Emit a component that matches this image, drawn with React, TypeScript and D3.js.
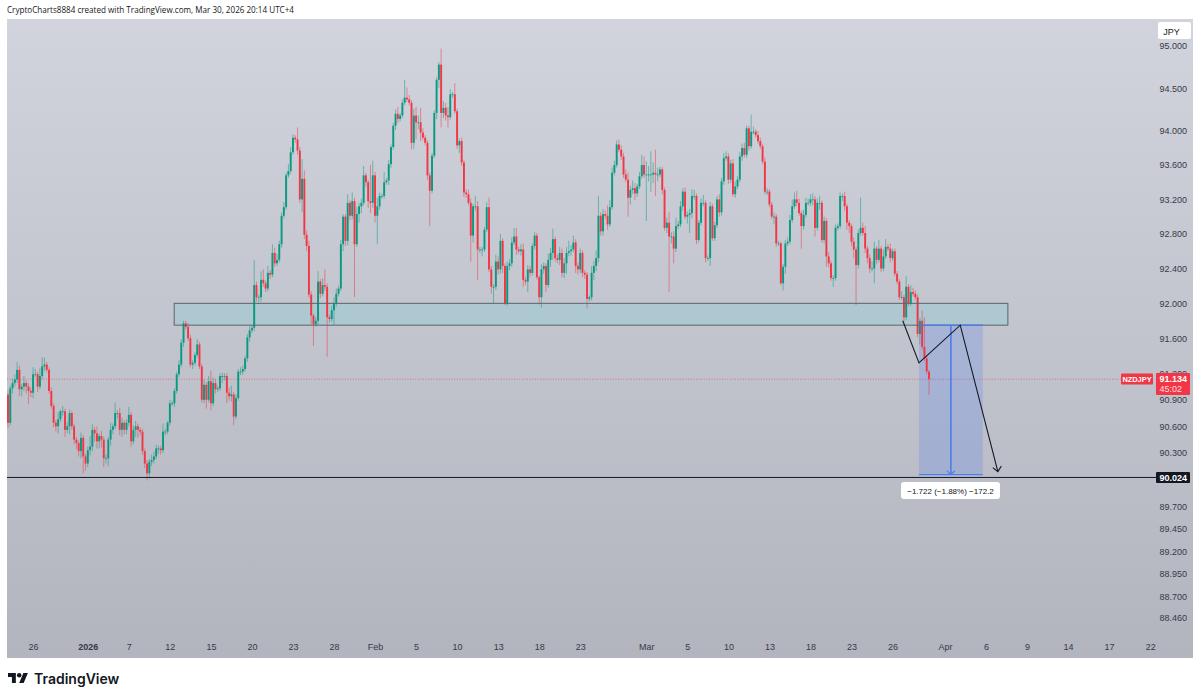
import * as d3 from "d3";
import { useEffect, useRef } from "react";

const closes = [
  90.64, 91.03, 91.09, 91.13, 91.24, 91.02, 91.05, 91.09, 91.05, 91.00,
  90.98, 91.19, 91.19, 91.05, 91.17, 91.28, 91.30, 91.24, 91.00, 90.83,
  90.64, 90.60, 90.68, 90.77, 90.77, 90.56, 90.60, 90.75, 90.60, 90.45,
  90.41, 90.32, 90.47, 90.26, 90.18, 90.33, 90.37, 90.56, 90.52, 90.43,
  90.49, 90.45, 90.24, 90.24, 90.45, 90.56, 90.60, 90.75, 90.75, 90.56,
  90.64, 90.56, 90.64, 90.73, 90.43, 90.56, 90.60, 90.56, 90.54, 90.32,
  90.18, 90.07, 90.20, 90.22, 90.26, 90.35, 90.35, 90.33, 90.54, 90.54,
  90.64, 90.86, 90.86, 91.00, 91.19, 91.30, 91.55, 91.77, 91.73, 91.60,
  91.30, 91.32, 91.41, 91.53, 91.28, 90.90, 91.07, 90.90, 91.11, 90.86,
  91.09, 91.02, 91.03, 91.17, 91.17, 91.17, 90.98, 90.94, 90.96, 90.71,
  90.92, 91.22, 91.22, 91.25, 91.37, 91.61, 91.69, 91.72, 92.21, 92.07,
  92.07, 92.27, 92.23, 92.17, 92.35, 92.33, 92.58, 92.46, 92.50, 92.68,
  93.01, 93.11, 93.48, 93.53, 93.75, 93.92, 93.90, 93.77, 93.20, 93.44,
  92.79, 92.66, 92.10, 91.86, 91.76, 91.80, 92.25, 92.11, 92.21, 92.19,
  91.84, 91.82, 91.92, 92.00, 92.11, 92.17, 92.68, 93.00, 92.72, 93.16,
  93.01, 93.18, 92.68, 93.03, 93.12, 93.16, 93.48, 93.40, 93.18, 93.16,
  93.48, 93.01, 93.12, 93.24, 93.24, 93.40, 93.42, 93.61, 93.81, 94.06,
  94.20, 94.14, 94.18, 94.33, 94.39, 94.37, 94.33, 93.86, 94.18, 94.10,
  94.10, 93.98, 93.92, 93.86, 93.48, 93.30, 93.71, 94.21, 94.60, 94.78,
  94.21, 94.27, 94.18, 94.16, 94.43, 94.43, 94.23, 93.83, 93.88, 93.63,
  93.28, 93.26, 93.16, 92.78, 93.12, 93.12, 92.62, 92.62, 92.62, 92.85,
  93.11, 92.39, 92.19, 92.19, 92.48, 92.39, 92.72, 92.43, 92.00, 92.43,
  92.46, 92.70, 92.77, 92.62, 92.60, 92.62, 92.27, 92.25, 92.39, 92.35,
  92.66, 92.78, 92.30, 92.07, 92.39, 92.43, 92.21, 92.50, 92.58, 92.74,
  92.52, 92.50, 92.58, 92.35, 92.46, 92.58, 92.60, 92.62, 92.70, 92.43,
  92.39, 92.58, 92.35, 92.33, 92.05, 92.07, 92.35, 92.43, 92.52, 93.01,
  92.83, 93.03, 93.01, 92.91, 93.11, 93.51, 93.60, 93.84, 93.78, 93.70,
  93.49, 93.43, 93.22, 93.31, 93.33, 93.27, 93.35, 93.47, 93.60, 93.49,
  93.49, 93.49, 93.49, 93.51, 93.49, 93.49, 93.55, 93.31, 92.87, 92.93,
  92.77, 92.77, 92.63, 92.89, 92.91, 93.12, 93.29, 93.00, 93.02, 93.04,
  93.24, 93.24, 92.73, 92.93, 93.16, 93.16, 92.52, 92.52, 93.12, 92.75,
  92.90, 93.20, 93.05, 93.41, 93.68, 93.70, 93.43, 93.62, 93.26, 93.35,
  93.43, 93.70, 93.80, 93.72, 94.03, 93.82, 93.99, 93.99, 93.95, 93.88,
  93.82, 93.64, 93.29, 93.29, 93.14, 93.00, 93.00, 92.69, 92.69, 92.23,
  92.42, 92.69, 92.71, 92.96, 93.12, 93.20, 93.16, 93.04, 92.89, 93.02,
  93.16, 93.16, 93.20, 93.20, 92.87, 93.16, 93.16, 92.73, 92.95, 92.54,
  92.46, 92.29, 92.29, 92.87, 92.89, 93.24, 93.24, 93.12, 92.93, 92.89,
  92.71, 92.62, 92.44, 92.81, 92.87, 92.81, 92.63, 92.52, 92.40, 92.40,
  92.63, 92.50, 92.63, 92.40, 92.54, 92.65, 92.63, 92.52, 92.60, 92.34,
  92.25, 92.07, 92.07, 91.84, 92.19, 92.00, 92.13, 92.11, 92.07, 91.65,
  91.80, 91.50, 91.37, 91.22, 91.134,
];
const firstOpen = 90.96;

// wick lengths past the body, hundredths of a yen
const upperWicks = [
  4, 3, 5, 6, 9, 5, 3, 8, 3, 4,
  4, 8, 6, 3, 9, 10, 8, 3, 3, 4,
  3, 3, 8, 2, 6, 3, 5, 4, 2, 3,
  3, 3, 6, 3, 3, 4, 12, 6, 3, 8,
  3, 6, 3, 4, 3, 8, 3, 12, 3, 6,
  6, 3, 4, 9, 3, 5, 6, 3, 3, 3,
  3, 4, 3, 6, 5, 4, 3, 3, 9, 3,
  2, 4, 3, 3, 3, 5, 4, 3, 3, 4,
  4, 3, 3, 6, 3, 3, 6, 3, 6, 12,
  6, 4, 3, 3, 4, 3, 3, 6, 10, 3,
  4, 3, 5, 4, 3, 4, 5, 3, 29, 4,
  3, 10, 12, 3, 8, 3, 10, 6, 7, 4,
  4, 6, 3, 8, 6, 4, 3, 14, 4, 23,
  10, 5, 6, 4, 2, 4, 12, 3, 8, 18,
  4, 3, 5, 7, 6, 3, 5, 3, 3, 10,
  3, 10, 4, 8, 4, 5, 11, 3, 3, 42,
  17, 4, 10, 4, 3, 12, 3, 5, 3, 3,
  5, 8, 3, 4, 21, 12, 5, 3, 8, 10,
  8, 17, 5, 3, 3, 3, 3, 3, 3, 3,
  19, 8, 6, 10, 6, 3, 13, 3, 3, 4,
  3, 4, 5, 5, 3, 12, 6, 3, 3, 3,
  6, 11, 4, 3, 8, 6, 8, 3, 3, 5,
  5, 6, 10, 10, 3, 6, 7, 3, 5, 4,
  3, 4, 3, 2, 6, 4, 3, 7, 6, 12,
  3, 4, 7, 5, 6, 7, 12, 5, 8, 4,
  4, 5, 3, 3, 3, 2, 8, 6, 9, 23,
  4, 6, 4, 12, 8, 6, 5, 5, 6, 5,
  4, 6, 8, 5, 9, 6, 3, 5, 12, 10,
  15, 10, 27, 12, 27, 8, 3, 3, 3, 6,
  12, 5, 6, 10, 4, 6, 4, 5, 4, 5,
  8, 7, 3, 3, 5, 9, 3, 3, 5, 3,
  4, 4, 6, 4, 6, 6, 4, 4, 5, 6,
  4, 5, 5, 6, 3, 3, 20, 6, 3, 5,
  4, 3, 5, 4, 3, 3, 5, 3, 3, 2,
  3, 4, 5, 6, 8, 8, 10, 5, 3, 6,
  6, 5, 6, 7, 4, 5, 8, 3, 5, 3,
  5, 3, 3, 4, 3, 4, 3, 5, 3, 3,
  3, 5, 3, 4, 35, 6, 8, 3, 4, 8,
  8, 3, 10, 3, 8, 9, 3, 6, 3, 3,
  3, 3, 7, 3, 12, 3, 8, 5, 4, 3,
  3, 12, 34, 3, 2,
];
const lowerWicks = [
  6, 3, 6, 4, 4, 8, 8, 5, 8, 15,
  5, 6, 3, 6, 3, 4, 5, 3, 3, 3,
  5, 6, 8, 3, 5, 8, 4, 9, 4, 5,
  7, 6, 8, 19, 8, 4, 6, 5, 9, 8,
  8, 9, 10, 6, 9, 7, 5, 3, 6, 6,
  8, 5, 5, 4, 6, 3, 8, 9, 4, 4,
  5, 8, 6, 5, 4, 3, 6, 5, 3, 4,
  3, 3, 3, 4, 3, 3, 3, 5, 3, 3,
  3, 5, 3, 3, 3, 3, 4, 10, 3, 8,
  3, 5, 3, 3, 8, 5, 12, 5, 6, 10,
  3, 3, 4, 4, 3, 4, 5, 3, 4, 5,
  6, 5, 4, 4, 3, 5, 3, 4, 3, 3,
  4, 3, 3, 3, 3, 3, 4, 5, 4, 15,
  5, 6, 4, 10, 25, 3, 5, 5, 3, 5,
  45, 4, 3, 17, 4, 3, 3, 8, 6, 5,
  5, 4, 61, 3, 10, 8, 3, 5, 8, 12,
  6, 8, 33, 4, 3, 3, 3, 5, 4, 3,
  5, 5, 3, 3, 3, 3, 3, 8, 7, 20,
  8, 10, 3, 3, 5, 41, 3, 3, 7, 10,
  17, 6, 6, 12, 3, 4, 3, 4, 9, 4,
  5, 4, 3, 30, 8, 5, 35, 4, 8, 3,
  3, 3, 8, 19, 4, 6, 5, 8, 2, 3,
  5, 4, 3, 6, 3, 5, 8, 4, 12, 5,
  3, 4, 3, 8, 12, 5, 8, 3, 8, 8,
  4, 4, 6, 5, 6, 12, 4, 5, 3, 8,
  6, 4, 5, 5, 11, 3, 4, 8, 6, 5,
  5, 5, 4, 6, 3, 3, 3, 3, 3, 4,
  4, 3, 22, 8, 5, 8, 4, 3, 3, 4,
  54, 8, 20, 10, 25, 8, 3, 5, 3, 6,
  64, 8, 17, 4, 3, 3, 5, 3, 8, 21,
  6, 4, 5, 3, 3, 4, 5, 3, 9, 3,
  3, 3, 5, 4, 4, 3, 5, 4, 3, 4,
  3, 3, 5, 3, 4, 5, 3, 3, 3, 3,
  3, 3, 3, 4, 3, 3, 9, 4, 3, 2,
  8, 8, 3, 3, 3, 3, 4, 3, 26, 4,
  3, 3, 4, 7, 10, 3, 8, 3, 4, 12,
  5, 3, 10, 3, 3, 3, 6, 5, 8, 8,
  5, 10, 46, 4, 3, 3, 5, 6, 5, 3,
  17, 5, 3, 4, 3, 3, 3, 5, 3, 3,
  3, 3, 3, 5, 3, 3, 3, 3, 3, 4,
  12, 3, 3, 3, 18,
];

const priceTicks = [
  95, 94.5, 94, 93.6, 93.2, 92.8, 92.4, 92, 91.6, 91.2, 90.9, 90.6, 90.3, 89.7,
  89.45, 89.2, 88.95, 88.7, 88.46,
];
const timeTickBars = [
  11, 35, 53, 71, 89, 107, 125, 143, 161, 179, 197, 215, 233, 251, 280, 298, 316,
  334, 352, 370, 388, 411, 429, 447, 465, 483, 501,
];
const timeTickLabels = [
  "26", "2026", "7", "12", "15", "20", "23", "28", "Feb", "5", "10", "13", "18", "23",
  "Mar", "5", "10", "13", "18", "23", "26", "Apr", "6", "9", "14", "17", "22",
];

const lastPrice = 91.134;
const targetPrice = 90.024;
const zoneBars = [72.9, 438.6];
const zonePrices = [92.0, 91.75];
const measureBars = [399.6, 427.6];
const measurePrices = [91.75, 90.055];
const pathBars = [392.5, 399.6, 417.7, 434.2];
const pathPrices = [91.8, 91.32, 91.75, 90.09];

const W = 1200;
const H = 700;
const plot = { left: 7, right: 1193, top: 19, bottom: 658 };
const font = "'Liberation Sans', Arial, sans-serif";
const up = "#089981";
const down = "#f23645";
const ink = "#131722";

export default function App() {
  const ref = useRef<SVGSVGElement | null>(null);

  useEffect(() => {
    const el = ref.current;
    if (!el) return;
    const svg = d3.select(el);
    svg.selectAll("*").remove();

    const x = d3.scaleLinear().domain([0, 404]).range([8, 929]);
    const y = d3.scaleLog().domain([88.46, 95]).range([618, 46]);

    const candles = closes.map((c, i) => {
      const o = i === 0 ? firstOpen : closes[i - 1];
      return {
        i,
        o,
        c,
        h: Math.max(o, c) + upperWicks[i] / 100,
        l: Math.min(o, c) - lowerWicks[i] / 100,
      };
    });

    const grad = svg
      .append("defs")
      .append("linearGradient")
      .attr("id", "bg")
      .attr("x1", 0)
      .attr("x2", 0)
      .attr("y1", 0)
      .attr("y2", 1);
    grad.append("stop").attr("offset", 0).attr("stop-color", "#d1d4dc");
    grad.append("stop").attr("offset", 1).attr("stop-color", "#b2b5be");

    svg.append("rect").attr("width", W).attr("height", H).attr("fill", "#fff");
    svg
      .append("rect")
      .attr("x", plot.left)
      .attr("y", plot.top)
      .attr("width", plot.right - plot.left)
      .attr("height", plot.bottom - plot.top)
      .attr("fill", "url(#bg)");

    svg
      .append("text")
      .attr("x", 7)
      .attr("y", 13)
      .attr("font-family", "'Open Sans', sans-serif")
      .attr("font-size", 8.1)
      .attr("fill", ink)
      .text("CryptoCharts8884 created with TradingView.com, Mar 30, 2026 20:14 UTC+4");

    // price axis, log scale
    svg
      .append("g")
      .attr("transform", "translate(1187,0)")
      .call(
        d3
          .axisLeft(y)
          .tickValues(priceTicks)
          .tickSize(0)
          .tickPadding(0)
          .tickFormat(d3.format(".3f") as (v: d3.NumberValue) => string),
      )
      .call((ga) => ga.select(".domain").remove())
      .call((ga) =>
        ga
          .selectAll(".tick text")
          .attr("fill", "#363a45")
          .attr("font-family", font)
          .attr("font-size", 9),
      );

    // time axis
    svg
      .append("g")
      .attr("transform", "translate(0,640)")
      .call(
        d3
          .axisBottom(x)
          .tickValues(timeTickBars)
          .tickSize(0)
          .tickPadding(4)
          .tickFormat((_, i) => timeTickLabels[i]),
      )
      .call((ga) => ga.select(".domain").remove())
      .call((ga) =>
        ga
          .selectAll(".tick text")
          .attr("fill", "#363a45")
          .attr("font-family", font)
          .attr("font-size", 9)
          .attr("font-weight", (_, i) => (timeTickLabels[i] === "2026" ? 600 : 400)),
      );

    // support zone fill sits under the candles, outline goes on top
    const zoneRect = (fill: string, stroke: string) =>
      svg
        .append("rect")
        .attr("x", x(zoneBars[0]))
        .attr("y", y(zonePrices[0]))
        .attr("width", x(zoneBars[1]) - x(zoneBars[0]))
        .attr("height", y(zonePrices[1]) - y(zonePrices[0]))
        .attr("fill", fill)
        .attr("stroke", stroke)
        .attr("stroke-width", 1);
    zoneRect("#adc8d0", "none");

    svg
      .append("line")
      .attr("x1", plot.left)
      .attr("x2", 1121)
      .attr("y1", y(lastPrice))
      .attr("y2", y(lastPrice))
      .attr("stroke", down)
      .attr("stroke-opacity", 0.75)
      .attr("stroke-width", 0.8)
      .attr("stroke-dasharray", "1,1.6");

    // measure box
    svg
      .append("rect")
      .attr("x", x(measureBars[0]))
      .attr("y", y(measurePrices[0]))
      .attr("width", x(measureBars[1]) - x(measureBars[0]))
      .attr("height", y(measurePrices[1]) - y(measurePrices[0]))
      .attr("fill", "#2962ff")
      .attr("fill-opacity", 0.17);

    const candleG = svg.append("g");
    candleG
      .selectAll("line")
      .data(candles)
      .join("line")
      .attr("x1", (d) => x(d.i))
      .attr("x2", (d) => x(d.i))
      .attr("y1", (d) => y(d.h))
      .attr("y2", (d) => y(d.l))
      .attr("stroke", (d) => (d.c >= d.o ? up : down))
      .attr("stroke-opacity", 0.5)
      .attr("stroke-width", 1);
    candleG
      .selectAll("rect")
      .data(candles)
      .join("rect")
      .attr("x", (d) => x(d.i) - 0.95)
      .attr("width", 1.9)
      .attr("y", (d) => y(Math.max(d.o, d.c)))
      .attr("height", (d) => Math.max(0.8, Math.abs(y(d.o) - y(d.c))))
      .attr("fill", (d) => (d.c >= d.o ? up : down));

    zoneRect("none", "#5b6369");

    const measureBlue = "#4d7cf0";
    measurePrices.forEach((p) => {
      svg
        .append("line")
        .attr("x1", x(measureBars[0]))
        .attr("x2", x(measureBars[1]))
        .attr("y1", y(p))
        .attr("y2", y(p))
        .attr("stroke", measureBlue)
        .attr("stroke-width", 1.2);
    });
    const midBar = (measureBars[0] + measureBars[1]) / 2;
    svg
      .append("line")
      .attr("x1", x(midBar))
      .attr("x2", x(midBar))
      .attr("y1", y(measurePrices[0]))
      .attr("y2", y(measurePrices[1]))
      .attr("stroke", measureBlue)
      .attr("stroke-width", 1.6);
    svg
      .append("path")
      .attr(
        "d",
        `M${x(midBar) - 4},${y(measurePrices[1]) - 4}L${x(midBar)},${y(measurePrices[1])}L${x(midBar) + 4},${y(measurePrices[1]) - 4}`,
      )
      .attr("fill", "none")
      .attr("stroke", measureBlue)
      .attr("stroke-width", 1.2);

    // target level
    svg
      .append("line")
      .attr("x1", plot.left)
      .attr("x2", 1156)
      .attr("y1", y(targetPrice))
      .attr("y2", y(targetPrice))
      .attr("stroke", ink)
      .attr("stroke-width", 1);

    // projected path
    const pathLine = d3
      .line<number>()
      .x((d) => x(d))
      .y((_, i) => y(pathPrices[i]));
    svg
      .append("path")
      .datum(pathBars)
      .attr("d", pathLine)
      .attr("fill", "none")
      .attr("stroke", ink)
      .attr("stroke-width", 1.1);
    const ex = x(pathBars[3]);
    const ey = y(pathPrices[3]);
    svg
      .append("path")
      .attr("d", `M${ex - 5},${ey - 4}L${ex},${ey}L${ex + 3.5},${ey - 5.5}`)
      .attr("fill", "none")
      .attr("stroke", ink)
      .attr("stroke-width", 1.1);

    // measure label
    svg
      .append("rect")
      .attr("x", 901)
      .attr("y", 482)
      .attr("width", 99)
      .attr("height", 17)
      .attr("rx", 3)
      .attr("fill", "#fff");
    svg
      .append("text")
      .attr("x", 950.5)
      .attr("y", 493.5)
      .attr("text-anchor", "middle")
      .attr("font-family", font)
      .attr("font-size", 8)
      .attr("fill", ink)
      .text("−1.722 (−1.88%) −172.2");

    // right side labels
    svg
      .append("rect")
      .attr("x", 1121)
      .attr("y", 373.5)
      .attr("width", 32)
      .attr("height", 11)
      .attr("rx", 1)
      .attr("fill", down);
    svg
      .append("text")
      .attr("x", 1137)
      .attr("y", 382)
      .attr("text-anchor", "middle")
      .attr("font-family", font)
      .attr("font-size", 7.4)
      .attr("font-weight", 700)
      .attr("fill", "#fff")
      .text("NZDJPY");
    svg
      .append("rect")
      .attr("x", 1156)
      .attr("y", 373)
      .attr("width", 34)
      .attr("height", 22)
      .attr("rx", 1)
      .attr("fill", down);
    svg
      .append("text")
      .attr("x", 1187)
      .attr("y", 382.3)
      .attr("text-anchor", "end")
      .attr("font-family", font)
      .attr("font-size", 9)
      .attr("font-weight", 700)
      .attr("fill", "#fff")
      .text(lastPrice.toFixed(3));
    svg
      .append("text")
      .attr("x", 1182)
      .attr("y", 392)
      .attr("text-anchor", "end")
      .attr("font-family", font)
      .attr("font-size", 9)
      .attr("fill", "#fff")
      .attr("fill-opacity", 0.85)
      .text("45:02");
    svg
      .append("rect")
      .attr("x", 1156)
      .attr("y", 472)
      .attr("width", 34)
      .attr("height", 11)
      .attr("rx", 1)
      .attr("fill", ink);
    svg
      .append("text")
      .attr("x", 1187)
      .attr("y", 481)
      .attr("text-anchor", "end")
      .attr("font-family", font)
      .attr("font-size", 9)
      .attr("font-weight", 700)
      .attr("fill", "#fff")
      .text(targetPrice.toFixed(3));

    svg
      .append("rect")
      .attr("x", 1158)
      .attr("y", 22)
      .attr("width", 33)
      .attr("height", 17)
      .attr("rx", 2)
      .attr("fill", "#fff");
    svg
      .append("text")
      .attr("x", 1171.5)
      .attr("y", 34.5)
      .attr("text-anchor", "middle")
      .attr("font-family", font)
      .attr("font-size", 9)
      .attr("fill", ink)
      .text("JPY");

    // TradingView mark
    const logo = svg.append("g").attr("transform", "translate(8,670.8) scale(0.56)");
    logo.append("path").attr("d", "M14 22H7V11H0V4h14v18zM28 22h-8l7.5-18h8L28 22z").attr("fill", ink);
    logo.append("circle").attr("cx", 20).attr("cy", 8).attr("r", 4).attr("fill", ink);
    svg
      .append("text")
      .attr("x", 34)
      .attr("y", 684)
      .attr("font-family", "Inter, sans-serif")
      .attr("font-size", 14)
      .attr("font-weight", 600)
      .attr("fill", ink)
      .text("TradingView");
  }, []);

  return (
    <svg
      ref={ref}
      width={W}
      height={H}
      viewBox={`0 0 ${W} ${H}`}
      style={{ position: "fixed", left: 0, top: 0 }}
      role="img"
      aria-label="NZDJPY candlestick chart with support zone and projected move to 90.024"
    />
  );
}
